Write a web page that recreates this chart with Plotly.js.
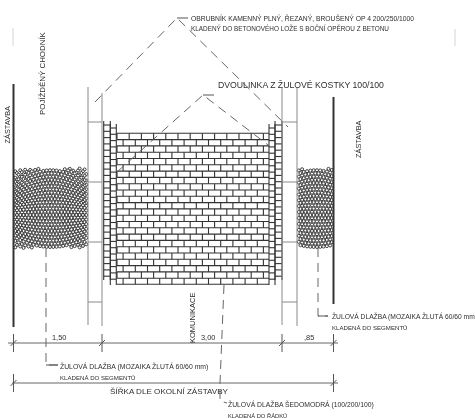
<!DOCTYPE html>
<html><head><meta charset="utf-8">
<script src="https://cdn.plot.ly/plotly-3.0.1.min.js"></script>
<style>html,body{margin:0;padding:0;background:#fff}#c{width:475px;height:418px;filter:blur(0.45px)}</style>
</head><body><div id="c"></div>
<script>
// ---- labels
var labelTexts = [
 "OBRUBNÍK KAMENNÝ PLNÝ, ŘEZANÝ, BROUŠENÝ OP 4 200/250/1000",
 "KLADENÝ DO BETONOVÉHO LOŽE S BOČNÍ OPĚROU Z BETONU",
 "DVOULINKA Z ŽULOVÉ KOSTKY 100/100",
 "POJÍŽDĚNÝ CHODNÍK","ZÁSTAVBA","ZÁSTAVBA","KOMUNIKACE",
 "1,50","3,00",",85",
 "ŽULOVÁ DLAŽBA (MOZAIKA ŽLUTÁ 60/60 mm)","KLADENÁ DO SEGMENTŮ",
 "ŠÍŘKA DLE OKOLNÍ ZÁSTAVBY",
 "ŽULOVÁ DLAŽBA ŠEDOMODRÁ (100/200/100)","KLADENÁ DO ŘÁDKŮ",
 "ŽULOVÁ DLAŽBA (MOZAIKA ŽLUTÁ 60/60 mm","KLADENÁ DO SEGMENTŮ"
];
// ---- drawing geometry (page pixels)
var labelX = [190,190,217,42,7,358,192,51,200,303,59,59,109,227,227,331,331];
var labelY = [18,27.5,85,73,124.5,139,318,337,337,337,366,377,391,404,415,316,327];
var labelAngle = [0,0,0,-90,-90,-90,-90,0,0,0,0,0,0,0,0,0,0];
var labelSize = [6.75,6.4,8.7,7.9,7.4,7.4,7.5,7.4,7.4,7.4,6.85,6.1,8.1,6.8,5.8,6.7,6.1];

var wallX = [[13.5,13.5],[333.5,333.5]];
var wallY = [[84,327],[97,304]];
var kerbX = [[88,88],[102,102],[282,282],[297,297]];
var kerbY = [[87,325],[93,326],[88,325],[88,326]];
var kerbRungY = [122,182,242,302];
var leaderX = [[95,177,288],[177,188],[117,203,268],[203,214],[46,46,58],[224,220,220,227],[318,318,328]];
var leaderY = [[102,18,127],[18,18],[172,95,145],[95,95],[248,365,365],[285,383,401,403],[248,316,316]];
var leaderSolid = [1,3];
var dimX = [[8,338],[12,338]];
var dimY = [[343,343],[383,383]];
var tickX = [13.5,102,282,333.5,13.5,333.5];
var tickY = [343,343,343,343,383,383];
var faintX = [[13,13],[455,455]];
var faintY = [[28,46],[29,46]];

var courseY = [133.3,139.6,145.9,152.2,158.5,164.8,171.1,177.4,183.7,190,196.3,202.6,208.9,215.2,221.5,227.8,234.1,240.4,246.7,253,259.3,265.6,271.9,278.2,284.2];
var brickLeft = 117, brickRight = 269, brickLen = 12.2;
var ladderX = [[103.7,110.3],[110.3,116.3],[269,275],[275,282]];
var ladderTop = [121,124,124,121];
var ladderBottom = [280,285,285,280];
var ladderRungStep = 6.3;

var mosaicRowY = [154.6,157.8,161,164.2,167,170.2,173.4,176.6,179.8,183,186.2,189.4,192.6,195.8,199,202.2,205.4,208.6,211.8,215,218.2,221.4,224.6,227.8,231,234.2,237.4,240.6,243.8,247,250.2,253.4,256.6];
var mosaicSag = [18,18,18,18,16,16,15,14,13,12,11,10,9,8,6,4,3,2,1,0,-1,-2,-3,-4,-5,-6,-7,-8,-9,-10,-10,-10,-10];
var mosaicBoxes = [[14.5,88,51],[298,333,316]];

// ---- build traces through the library's scales
function seg(xs,ys,color,width,dash){
  var x=[],y=[];
  xs.forEach(function(a,i){ a.forEach(function(v,j){x.push(v);y.push(ys[i][j]);}); x.push(null);y.push(null);});
  return {type:'scatter',mode:'lines',x:x,y:y,hoverinfo:'skip',showlegend:false,cliponaxis:false,
          line:{color:color,width:width,dash:dash||'solid',simplify:false}};
}
var traces=[];

// mosaic
mosaicBoxes.forEach(function(b){
  var mx=[],my=[];
  mosaicRowY.forEach(function(y0,r){
    var off=(r%2)*1.65;
    for(var x=b[0]+0.8+off;x<=b[1]-0.3;x+=3.3){
      var t=(x-b[2])/37;
      var y=y0+mosaicSag[r]*t*t;
      if(y>=168.5&&y<=248){mx.push(x);my.push(y);}
    }
  });
  traces.push({type:'scatter',mode:'markers',x:mx,y:my,hoverinfo:'skip',showlegend:false,
    marker:{symbol:'circle',size:3,color:'#fff',line:{color:'#2a2a2a',width:0.9}}});
});

// bricks
var bx=[],by=[];
courseY.forEach(function(y){bx.push(brickLeft,brickRight,null);by.push(y,y,null);});
courseY.slice(0,-1).forEach(function(y,r){
  var start=brickLeft+(r%2?6.1:0);
  for(var x=start;x<=brickRight+0.1;x+=brickLen){bx.push(x,x,null);by.push(y,courseY[r+1],null);}
});
traces.push({type:'scatter',mode:'lines',x:bx,y:by,hoverinfo:'skip',showlegend:false,line:{color:'#333',width:1.1}});

// edge ladders
var lx=[],ly=[];
ladderX.forEach(function(c,i){
  lx.push(c[0],c[0],null,c[1],c[1],null);
  ly.push(ladderTop[i],ladderBottom[i],null,ladderTop[i],ladderBottom[i],null);
  for(var y=ladderTop[i]+4;y<=ladderBottom[i]+0.1;y+=ladderRungStep){lx.push(c[0],c[1],null);ly.push(y,y,null);}
});
traces.push({type:'scatter',mode:'lines',x:lx,y:ly,hoverinfo:'skip',showlegend:false,line:{color:'#333',width:1.1}});

// walls, kerbs, rungs
traces.push(seg(wallX,wallY,'#333',2));
traces.push(seg(kerbX,kerbY,'#8a8a8a',1));
var rx=[],ry=[];
kerbRungY.forEach(function(y){rx.push([88,102]);ry.push([y,y]);rx.push([282,297]);ry.push([y,y]);});
traces.push(seg(rx,ry,'#8a8a8a',1));

// leaders
var dashX=[],dashY=[],solX=[],solY=[];
leaderX.forEach(function(a,i){ if(leaderSolid.indexOf(i)>=0){solX.push(a);solY.push(leaderY[i]);} else {dashX.push(a);dashY.push(leaderY[i]);}});
traces.push(seg(dashX,dashY,'#666',1,'9px,6px'));
traces.push(seg(solX,solY,'#555',1));
traces.push(seg([[46,58],[318,328]],[[365,365],[316,316]],'#555',1));

// dimension lines + ticks
traces.push(seg(dimX,dimY,'#666',1));
var tx=[],ty=[];
tickX.forEach(function(x,i){
  tx.push([x,x]);ty.push([tickY[i]-9,tickY[i]+9]);
  tx.push([x-3,x+3]);ty.push([tickY[i]+3,tickY[i]-3]);
});
traces.push(seg(tx,ty,'#555',1));
traces.push(seg(faintX,faintY,'#d4d4d4',1));

var annotations=labelTexts.map(function(t,i){
  var rot=labelAngle[i]!==0;
  return {text:t,x:labelX[i],y:labelY[i],xref:'x',yref:'y',showarrow:false,textangle:labelAngle[i],
    xanchor:rot?'center':'left',yanchor:'middle',align:'left',
    font:{family:'Liberation Sans, Arial, sans-serif',size:labelSize[i],color:'#2e2e2e'},borderpad:0};
});

Plotly.newPlot('c',traces,{
  width:475,height:418,margin:{l:0,r:0,t:0,b:0},paper_bgcolor:'#fff',plot_bgcolor:'#fff',showlegend:false,
  xaxis:{range:[0,475],visible:false,fixedrange:true},
  yaxis:{range:[418,0],visible:false,fixedrange:true},
  annotations:annotations
},{displayModeBar:false,staticPlot:true});
</script></body></html>
